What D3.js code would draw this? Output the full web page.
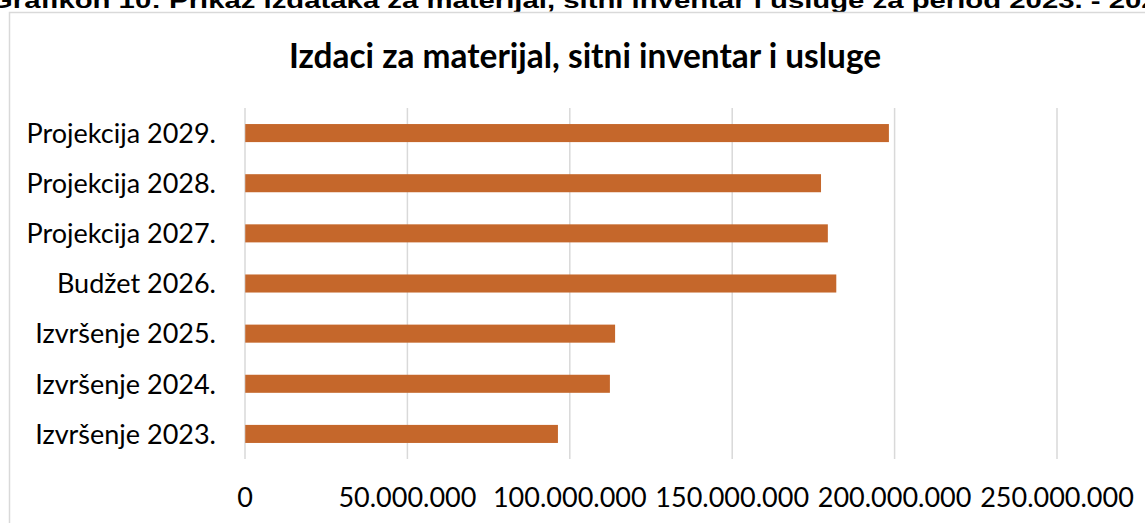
<!DOCTYPE html>
<html>
<head>
<meta charset="utf-8">
<script src="https://cdn.jsdelivr.net/npm/d3@7"></script>
<style>
  body { margin: 0; background: #fff; }
  svg { display: block; }
</style>
</head>
<body>
<div id="graph"></div>
<script>
var categories = ['Projekcija 2029.', 'Projekcija 2028.', 'Projekcija 2027.', 'Budžet 2026.',
  'Izvršenje 2025.', 'Izvršenje 2024.', 'Izvršenje 2023.']
var values = [198400000, 177500000, 179600000, 182200000, 114100000, 112500000, 96500000]
var ticks = [0, 50000000, 100000000, 150000000, 200000000, 250000000]

var caption = 'Grafikon 10: Prikaz izdataka za materijal, sitni inventar i usluge za period 2023. - 2029.'
var title = 'Izdaci za materijal, sitni inventar i usluge'

var width = 1145, height = 523
var svg = d3.select('#graph').append('svg').attr('width', width).attr('height', height)

var font = 'Lato, "Open Sans", sans-serif'

// caption of the document, clipped by the page top
svg.append('text')
  .attr('x', -10).attr('y', 8)
  .attr('textLength', 1192).attr('lengthAdjust', 'spacingAndGlyphs')
  .style('font', 'bold 22px "Liberation Sans", Arial, sans-serif')
  .text(caption)

// chart frame
svg.append('rect')
  .attr('x', 9.5).attr('y', 12.5).attr('width', 1200).attr('height', 600)
  .attr('fill', 'none').attr('stroke', '#d9d9d9').attr('stroke-width', 1.5)

var x = d3.scaleLinear().domain([0, 250000000]).range([244.5, 1056.5])
var y = d3.scaleBand().domain(categories).range([108, 459]).paddingInner(0.64).paddingOuter(0.32)

svg.append('text')
  .attr('x', 585).attr('y', 68)
  .attr('text-anchor', 'middle')
  .style('font', 'bold 33.4px ' + font)
  .text(title)

var fmt = d => d3.format(',')(d).replace(/,/g, '.')

var xAxis = svg.append('g')
  .attr('transform', 'translate(0,459)')
  .call(d3.axisBottom(x).tickValues(ticks).tickSize(-351).tickFormat(fmt).tickPadding(29))
xAxis.select('.domain').remove()
xAxis.selectAll('line').attr('stroke', '#d9d9d9').attr('stroke-width', 1.5)
xAxis.selectAll('text').attr('fill', '#000').style('font', '27px ' + font)

svg.append('g').selectAll('rect')
  .data(categories)
  .join('rect')
  .attr('x', x(0) + 0.75)
  .attr('y', d => y(d))
  .attr('width', (d, i) => x(values[i]) - x(0) - 0.75)
  .attr('height', y.bandwidth())
  .attr('fill', '#c5672b')

svg.append('g').selectAll('text')
  .data(categories)
  .join('text')
  .attr('x', 216)
  .attr('y', d => y(d) + y.bandwidth() / 2)
  .attr('dy', '0.36em')
  .attr('text-anchor', 'end')
  .style('font', '27px ' + font)
  .text(d => d)
</script>
</body>
</html>
